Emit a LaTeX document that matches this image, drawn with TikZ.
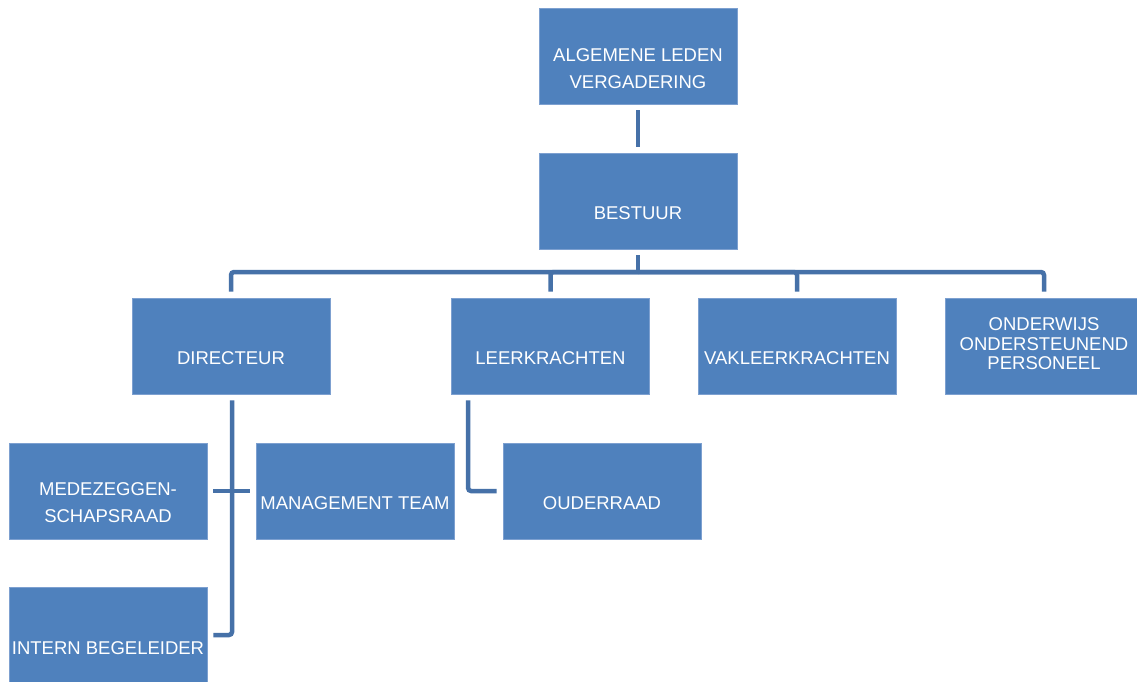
\documentclass[tikz,border=0pt]{standalone}
\usepackage{fontspec}
\setmainfont{Liberation Sans}
\definecolor{boxfill}{RGB}{79,129,189}
\definecolor{boxedge}{RGB}{125,160,208}
\definecolor{linkcol}{RGB}{70,113,168}
\tikzset{
  orgbox/.style={rectangle, fill=boxfill, draw=boxedge, line width=0.8pt,
    minimum width=198pt, minimum height=96pt, inner sep=0pt},
  lbl/.style={text=white, align=center, inner sep=0pt,
    font=\fontsize{18.5}{27}\selectfont},
  tightlbl/.style={lbl, font=\fontsize{18.5}{19.5}\selectfont},
  conn/.style={draw=linkcol, line width=4.5pt, rounded corners=3pt}
}
\begin{document}
\begin{tikzpicture}[x=1pt, y=-1pt]
\clip (0,0) rectangle (1137,682);
\fill[white] (0,0) rectangle (1137,682);

% boxes
\node[orgbox] (alv) at (638,56) {};
\node[orgbox] (best) at (638,201) {};
\node[orgbox] (dir) at (231,346) {};
\node[orgbox] (lk) at (550.5,346) {};
\node[orgbox] (vlk) at (797,346) {};
\node[orgbox] (oop) at (1044,346) {};
\node[orgbox] (mr) at (108,491) {};
\node[orgbox] (mt) at (355,491) {};
\node[orgbox] (oud) at (602,491) {};
\node[orgbox] (ib) at (108,635) {};

% labels
\node[lbl] (alvt) at ([yshift=-12.5pt]alv.center) {ALGEMENE LEDEN\\VERGADERING};
\node[lbl] (bestt) at ([yshift=-12pt]best.center) {BESTUUR};
\node[lbl] (dirt) at ([yshift=-12pt]dir.center) {DIRECTEUR};
\node[lbl] (lkt) at ([yshift=-12pt]lk.center) {LEERKRACHTEN};
\node[lbl] (vlkt) at ([yshift=-12pt]vlk.center) {VAKLEERKRACHTEN};
\node[tightlbl] (oopt) at ([yshift=2pt]oop.center) {ONDERWIJS\\ONDERSTEUNEND\\PERSONEEL};
\node[lbl] (mrt) at ([yshift=-11.5pt]mr.center) {MEDEZEGGEN-\\SCHAPSRAAD};
\node[lbl] (mtt) at ([yshift=-12pt]mt.center) {MANAGEMENT TEAM};
\node[lbl] (oudt) at ([yshift=-12pt]oud.center) {OUDERRAAD};
\node[lbl] (ibt) at ([yshift=-13pt]ib.center) {INTERN BEGELEIDER};

% connectors
\coordinate (bus) at (638,272);
\draw[conn] ([yshift=-6pt]alv.south) -- ([yshift=6pt]best.north);
\draw[conn] ([yshift=-6pt]best.south) -- (bus);
\draw[conn] (bus) -| ([yshift=6pt]dir.north);
\draw[conn] (bus) -| ([yshift=6pt]lk.north);
\draw[conn] (bus) -| ([yshift=6pt]vlk.north);
\draw[conn] (bus) -| ([yshift=6pt]oop.north);

\coordinate (dirdown) at ([xshift=1pt,yshift=-6pt]dir.south);
\draw[conn] (dirdown) |- ([xshift=6pt]ib.east);
\draw[conn, rounded corners=0pt] ([xshift=6pt]mr.east) -- ([xshift=-6pt]mt.west);

\coordinate (lkdown) at ([xshift=17pt,yshift=-6pt]lk.south west);
\draw[conn] (lkdown) |- ([xshift=-6pt]oud.west);
\end{tikzpicture}
\end{document}
